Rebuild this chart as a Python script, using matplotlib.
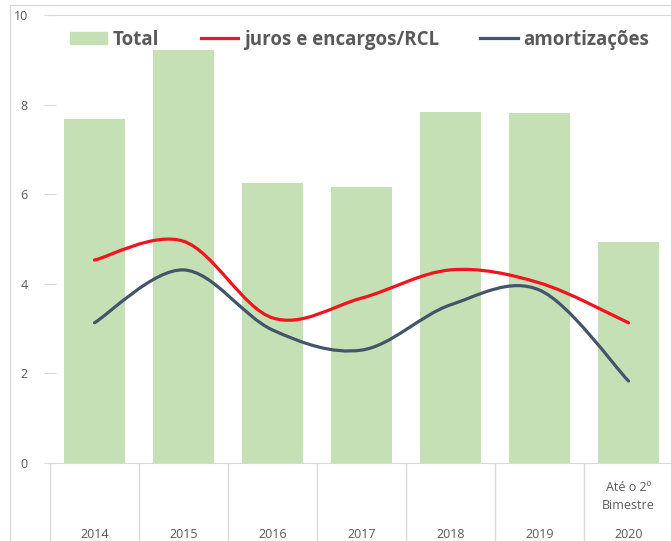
import numpy as np
import matplotlib
matplotlib.use("Agg")
import matplotlib.pyplot as plt
from matplotlib.path import Path
from matplotlib.patches import PathPatch, Patch, Rectangle
from matplotlib.lines import Line2D

years = ["2014", "2015", "2016", "2017", "2018", "2019", "2020"]
sub_labels = ["", "", "", "", "", "", "Até o 2º\nBimestre"]
total = [7.68, 9.22, 6.25, 6.16, 7.83, 7.81, 4.93]
juros = [4.53, 4.95, 3.24, 3.68, 4.31, 4.02, 3.13]
amortizacoes = [3.13, 4.31, 2.97, 2.52, 3.53, 3.86, 1.83]

GREEN = "#C5E0B4"
RED = "#F0141E"
DARK = "#44546A"
GRAY = "#595959"
LIGHT = "#D9D9D9"

plt.rcParams["font.family"] = ["Open Sans", "DejaVu Sans"]


def smooth_path(xs, ys):
    # Excel-style smoothed line: Catmull-Rom turned into cubic Beziers
    pts = np.column_stack([xs, ys]).astype(float)
    n = len(pts)
    verts = [pts[0]]
    codes = [Path.MOVETO]
    for i in range(n - 1):
        p0 = pts[max(i - 1, 0)]
        p1 = pts[i]
        p2 = pts[i + 1]
        p3 = pts[min(i + 2, n - 1)]
        verts += [p1 + (p2 - p0) / 6, p2 - (p3 - p1) / 6, p2]
        codes += [Path.CURVE4] * 3
    return Path(verts, codes)


fig = plt.figure(figsize=(6.71, 5.41), dpi=100)
ax = fig.add_axes([50 / 671, 1 - 463 / 541, 623 / 671, 448 / 541])

x = np.arange(len(years))
ax.bar(x, total, width=0.68, color=GREEN, zorder=1)

for vals, col in [(juros, RED), (amortizacoes, DARK)]:
    ax.add_patch(PathPatch(smooth_path(x, vals), fill=False, edgecolor=col,
                           lw=2.3, capstyle="round", zorder=3))

ax.set_xlim(-0.5, len(years) - 0.5)
ax.set_ylim(0, 10)
ax.set_yticks([0, 2, 4, 6, 8, 10])
ax.tick_params(axis="y", direction="inout", length=8, color=LIGHT,
               labelcolor=GRAY, labelsize=9, pad=12)
ax.set_xticks([])

for s in ["left", "right"]:
    ax.spines[s].set_visible(False)
ax.spines["top"].set_color(LIGHT)
ax.spines["bottom"].set_color(LIGHT)

# multi-level category axis
trans = ax.get_xaxis_transform()
for b in np.arange(len(years) + 1) - 0.5:
    ax.plot([b, b], [0, -0.2], color=LIGHT, lw=1, transform=trans, clip_on=False)
for i, (yr, sub) in enumerate(zip(years, sub_labels)):
    ax.text(i, -0.16, yr, transform=trans, ha="center", va="center",
            fontsize=9, color=GRAY)
    if sub:
        ax.text(i, -0.075, sub, transform=trans, ha="center", va="center",
                fontsize=9, color=GRAY, linespacing=1.5)

handles = [Patch(color=GREEN), Line2D([], [], color=RED, lw=2.3),
           Line2D([], [], color=DARK, lw=2.3)]
labels = ["Total", "juros e encargos/RCL", "amortizações"]
ax.legend(handles, labels, loc="center left", bbox_to_anchor=(0.005, 0.945),
          ncol=3, frameon=False, handlelength=2.0, handleheight=0.6,
          handletextpad=0.3, columnspacing=2.2,
          prop={"size": 13.5, "weight": "bold"}, labelcolor=GRAY)

fig.patches.append(Rectangle((10 / 671, -0.1), 1.2, 1.1 - 5 / 541,
                             transform=fig.transFigure, fill=False,
                             edgecolor=LIGHT, lw=1))

fig.savefig("out.png", dpi=100)
